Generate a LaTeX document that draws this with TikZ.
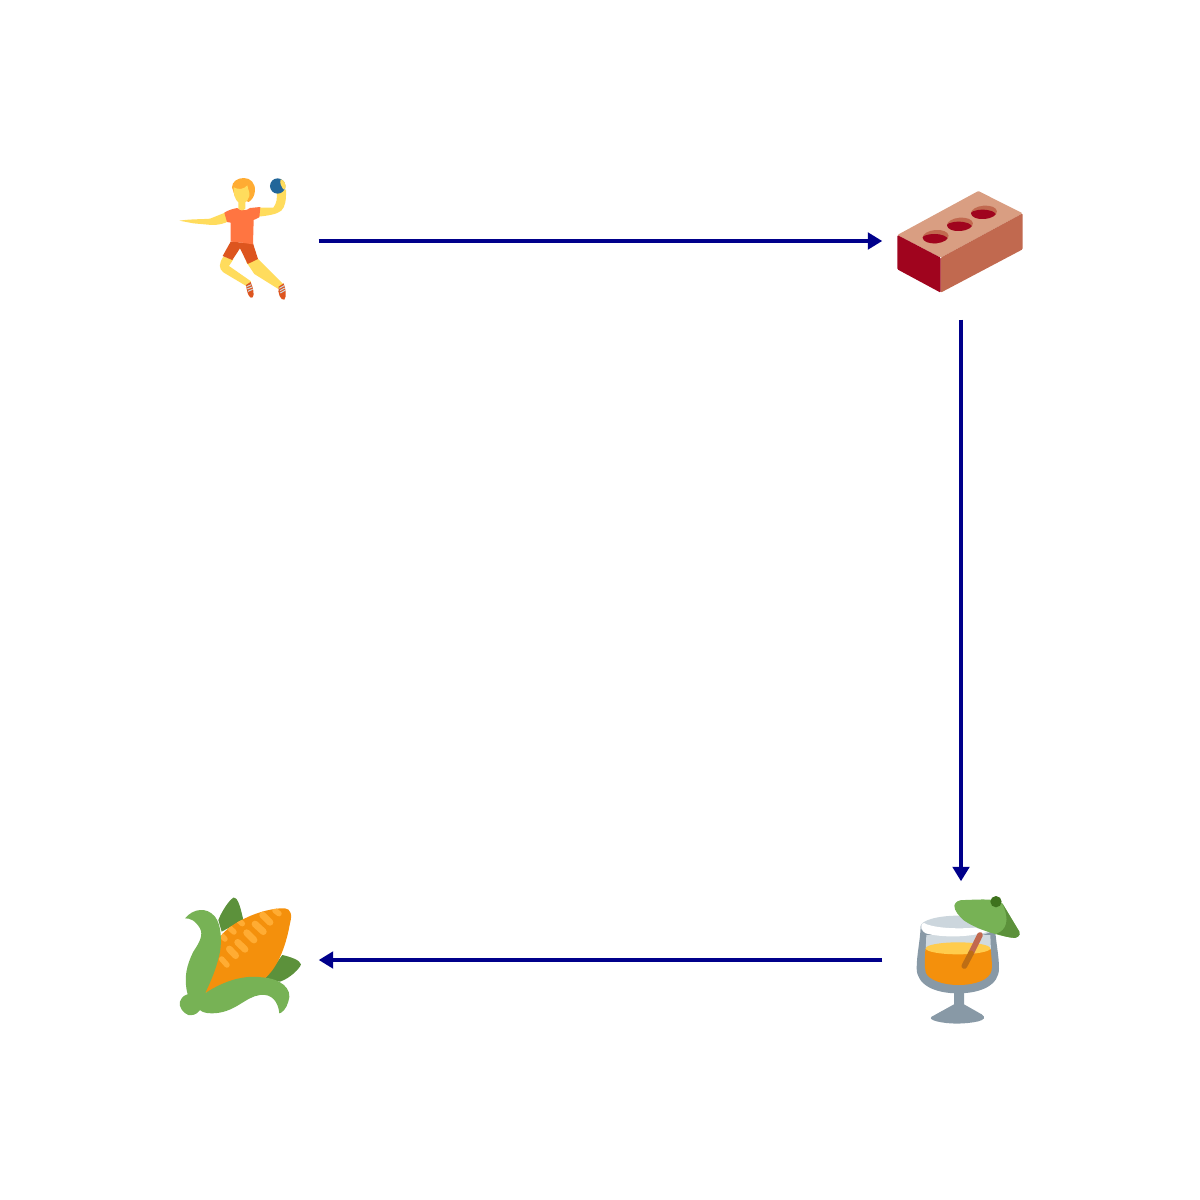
\documentclass[tikz,border=0pt]{standalone}
\usepackage{tikz}
\usetikzlibrary{arrows.meta}
\definecolor{linkblue}{HTML}{00008B}
\definecolor{skin}{HTML}{FFDC5D}
\definecolor{hair}{HTML}{FFAC33}
\definecolor{shirt}{HTML}{FF7541}
\definecolor{shorts}{HTML}{DD551F}
\definecolor{ballblue}{HTML}{226699}
\definecolor{claytop}{HTML}{D99E82}
\definecolor{clay}{HTML}{C1694F}
\definecolor{brickred}{HTML}{A0041E}
\definecolor{steel}{HTML}{8899A6}
\definecolor{mist}{HTML}{CCD6DD}
\definecolor{juice}{HTML}{F4900C}
\definecolor{juicetop}{HTML}{FFCC4D}
\definecolor{strawlow}{HTML}{BE6E14}
\definecolor{leaf}{HTML}{77B255}
\definecolor{darkleaf}{HTML}{5C913B}
\definecolor{knob}{HTML}{3E721D}
\tikzset{
	emojibox/.style={minimum size=3.15cm, inner sep=0pt, outer sep=0pt},
	flow/.style={draw=linkblue, line width=0.8mm, -{Triangle[length=2.9mm, width=3.3mm]}},
	zoomed/.style={x=0.0066667cm, y=-0.0066667cm},
	kernel/.style={draw=hair, line width=1.1mm, line cap=round},
}
\begin{document}
\begin{tikzpicture}[x=0.02cm, y=-0.02cm]
	\useasboundingbox (0,0) rectangle (1200,1200);
	% Handball player:
	\begin{scope}[shift={(160,160)}, zoomed]
		\fill[skin] (58,182) .. controls (90,177) and (130,178) .. (150,176) -- (195,158) -- (208,183) .. controls (190,192) and (175,195) .. (155,195) -- (100,190) -- cycle;
		\fill[skin] (295,143) -- (340,143) .. controls (350,130) and (352,115) .. (350,98) -- (378,88) .. controls (379,120) and (376,140) .. (364,152) .. controls (350,163) and (325,167) .. (295,170) -- cycle;
		\fill[ballblue] (353,78) circle (23);
		\fill[skin] (362,58) .. controls (372,60) and (378,70) .. (377,85) -- (370,88) .. controls (364,78) and (358,70) .. cycle;
		\fill[skin] (190,290) -- (220,298) -- (207,318) -- (273,364) -- (262,380) -- (190,337) .. controls (176,325) and (176,312) .. cycle;
		\fill[skin] (258,305) -- (292,295) -- (369,372) -- (355,387) -- (283,342) -- cycle;
		\fill[shorts] (212,245) -- (279,250) -- (294,297) -- (263,312) -- (240,265) -- (217,300) -- (188,288) -- cycle;
		\fill[shirt] (193,158) .. controls (205,150) and (220,146) .. (232,144) .. controls (240,153) and (260,153) .. (270,144) -- (301,141) -- (298,172) -- (281,180) -- (279,253) .. controls (255,250) and (235,245) .. (212,245) -- (212,188) -- (201,186) -- cycle;
		\fill[hair] (216,82) .. controls (216,65) and (232,54) .. (252,54) .. controls (272,54) and (286,70) .. (285,92) .. controls (284,108) and (276,120) .. (266,126) -- (225,110) -- cycle;
		\fill[skin] (221,82) .. controls (235,90) and (252,88) .. (262,76) .. controls (264,90) and (270,95) .. (268,108) .. controls (266,118) and (260,124) .. (256,127) -- (256,146) .. controls (250,153) and (240,153) .. (235,146) -- (235,127) .. controls (225,120) and (220,100) .. cycle;
		\fill[shorts] (258,375) -- (272,366) .. controls (280,385) and (284,405) .. (278,412) .. controls (270,418) and (262,405) .. cycle;
		\fill[shorts] (356,380) -- (371,370) .. controls (378,390) and (380,410) .. (373,419) .. controls (362,422) and (352,400) .. cycle;
		\draw[mist, line width=0.2mm] (260,380) -- (274,374) (262,387) -- (276,381) (264,394) -- (278,388);
		\draw[mist, line width=0.2mm] (358,385) -- (372,377) (360,392) -- (374,384) (361,399) -- (375,391);
	\end{scope}
	% Brick:
	\begin{scope}[shift={(885,170)}, zoomed]
		\fill[claytop, rounded corners=0.6pt] (37,195) -- (280,63) -- (413,130) -- (167,263) -- cycle;
		\fill[clay, rounded corners=0.6pt] (167,263) -- (413,130) -- (413,238) -- (167,368) -- cycle;
		\fill[brickred, rounded corners=0.6pt] (37,195) -- (167,263) -- (167,368) -- (37,298) -- cycle;
		\foreach \hx/\hy in {152/200, 225/163, 297/127}{
			\fill[clay, rotate around={5:(\hx,\hy)}] (\hx,\hy) ellipse (39 and 20);
			\begin{scope}
				\clip[rotate around={5:(\hx,\hy)}] (\hx,\hy) ellipse (39 and 20);
				\fill[brickred] (\hx-4,\hy+8) ellipse (40 and 16);
			\end{scope}
		}
	\end{scope}
	% Cocktail:
	\begin{scope}[shift={(885,885)}, zoomed]
		\fill[steel] (140,395) -- (207,358) -- (207,318) -- (237,318) -- (237,358) -- (290,388) .. controls (305,398) and (295,405) .. (280,409) .. controls (240,418) and (190,418) .. (155,409) .. controls (140,405) and (133,400) .. cycle;
		\fill[steel] (107,125) .. controls (105,170) and (95,210) .. (95,250) .. controls (95,300) and (150,325) .. (218,325) .. controls (290,325) and (342,300) .. (342,250) .. controls (342,210) and (332,170) .. (330,125) -- cycle;
		\fill[mist] (218,125) ellipse (112 and 33);
		\fill[mist!90!white] (124,150) -- (316,150) -- (318,200) -- (122,200) -- cycle;
		\fill[juice] (121,192) .. controls (120,220) and (118,240) .. (122,262) .. controls (130,285) and (175,300) .. (220,300) .. controls (270,300) and (315,285) .. (320,255) .. controls (322,235) and (319,215) .. (317,192) -- cycle;
		\fill[juicetop] (219,190) ellipse (97 and 18);
		\fill[white] (110,128) .. controls (108,115) and (115,110) .. (125,118) .. controls (160,130) and (220,132) .. (270,128) -- (310,140) .. controls (250,158) and (170,158) .. (122,145) .. controls (115,142) and (110,135) .. cycle;
		\draw[clay, line width=1.15mm, line cap=round] (285,150) -- (258,205);
		\draw[strawlow, line width=1.15mm, line cap=round] (258,205) -- (238,243);
		\fill[leaf] (208,62) .. controls (210,50) and (222,44) .. (240,45) .. controls (270,44) and (300,42) .. (325,45) -- (352,55) -- (403,140) .. controls (408,152) and (395,162) .. (380,158) .. controls (330,150) and (270,130) .. (235,105) .. controls (222,92) and (208,78) .. cycle;
		\fill[darkleaf] (352,55) -- (403,140) .. controls (408,152) and (395,162) .. (380,158) .. controls (362,155) and (345,150) .. (335,146) .. controls (365,135) and (375,105) .. (352,55) -- cycle;
		\fill[knob] (333,50) circle (17);
	\end{scope}
	% Corn:
	\begin{scope}[shift={(165,885)}, zoomed]
		\fill[darkleaf] (160,105) .. controls (170,80) and (190,48) .. (205,38) .. controls (220,35) and (228,75) .. (235,105) -- (170,140) -- cycle;
		\fill[darkleaf] (352,210) .. controls (375,215) and (405,225) .. (408,238) .. controls (405,250) and (375,280) .. (345,290) -- (300,280) -- cycle;
		\begin{scope}
			\clip (120,325) .. controls (120,240) and (130,150) .. (240,100) .. controls (280,80) and (330,68) .. (360,70) .. controls (378,72) and (382,90) .. (375,115) .. controls (365,170) and (345,240) .. (300,280) .. controls (240,290) and (170,300) .. (120,325) -- cycle;
			\fill[juice] (100,60) rectangle (400,340);
			\draw[kernel, line width=1.35mm] (293,90) -- (315,112);
			\draw[kernel] (330,77) -- (342,86);
			\draw[kernel, line width=1.35mm] (270,117) -- (295,140);
			\draw[kernel] (222,107) -- (232,116);
			\draw[kernel] (193,128) -- (207,141);
			\draw[kernel, line width=1.35mm] (245,143) -- (267,165);
			\draw[kernel, line width=1.35mm] (218,172) -- (240,193);
			\draw[kernel] (170,152) -- (180,162);
			\draw[kernel, line width=1.35mm] (193,192) -- (212,212);
			\draw[kernel] (170,222) -- (186,240);
		\end{scope}
		\fill[leaf] (60,100) .. controls (85,70) and (125,65) .. (150,95) .. controls (170,120) and (170,170) .. (165,200) .. controls (155,250) and (135,295) .. (120,325) .. controls (180,285) and (240,270) .. (290,277) .. controls (345,280) and (385,310) .. (370,350) .. controls (365,370) and (350,385) .. (343,385) .. controls (340,350) and (320,325) .. (285,330) .. controls (240,335) and (210,385) .. (140,385) .. controls (120,385) and (110,380) .. (105,375) .. controls (95,390) and (80,392) .. (70,390) .. controls (55,385) and (40,365) .. (45,350) .. controls (50,335) and (60,330) .. (68,328) .. controls (55,280) and (65,240) .. (85,200) .. controls (105,170) and (115,150) .. (105,130) .. controls (90,105) and (75,100) .. (60,100) -- cycle;
	\end{scope}
	% Nodes and arrows:
	\node[emojibox] (player) at (240,241){};
	\node[emojibox] (brick) at (961,241){};
	\node[emojibox] (cocktail) at (961,960){};
	\node[emojibox] (corn) at (240,960){};
	\draw[flow] (player) -- (brick);
	\draw[flow] (brick) -- (cocktail);
	\draw[flow] (cocktail) -- (corn);
\end{tikzpicture}
\end{document}
